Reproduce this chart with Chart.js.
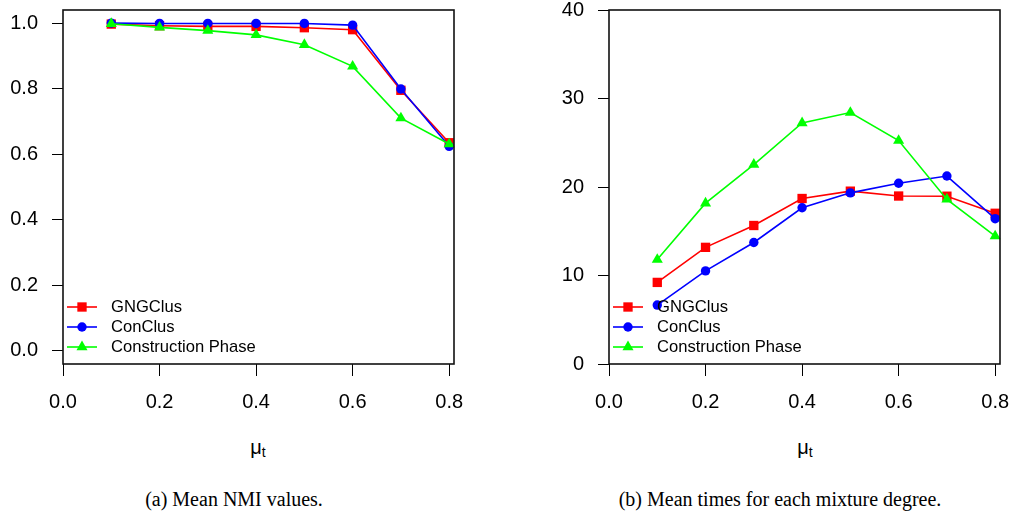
<!DOCTYPE html>
<html>
<head>
<meta charset="utf-8">
<script src="https://cdn.jsdelivr.net/npm/chart.js@4.4.1/dist/chart.umd.min.js"></script>
<style>
  body { margin: 0; background: #fff; width: 1013px; height: 512px; position: relative; overflow: hidden; }
  canvas { position: absolute; top: 0; }
  .lbl { position: absolute; transform: translate(-50%, -50%); white-space: nowrap; color: #000; }
  .mu { font: 20px "Liberation Sans", Arial, sans-serif; }
  .mu sub { font-size: 14px; vertical-align: -3px; }
  .cap { font: 20px "Liberation Serif", "Times New Roman", serif; }
</style>
</head>
<body>
<canvas id="nmi" width="506" height="430" style="left:0px"></canvas>
<canvas id="time" width="507" height="430" style="left:506px"></canvas>
<div class="lbl mu" style="left:258px;top:448px">μ<sub>t</sub></div>
<div class="lbl mu" style="left:805px;top:448px">μ<sub>t</sub></div>
<div class="lbl cap" style="left:234px;top:499px">(a) Mean NMI values.</div>
<div class="lbl cap" style="left:780px;top:499px">(b) Mean times for each mixture degree.</div>
<script>
var mixture = [0.1, 0.2, 0.3, 0.4, 0.5, 0.6, 0.7, 0.8];
var xTicks = [0, 0.2, 0.4, 0.6, 0.8];
var nmiTicks = [0, 0.2, 0.4, 0.6, 0.8, 1.0];
var timeTicks = [0, 10, 20, 30, 40];
var seriesNames = ['GNGClus', 'ConClus', 'Construction Phase'];

// mean NMI
var gngNmi = [0.997, 0.992, 0.990, 0.990, 0.986, 0.980, 0.795, 0.635];
var conNmi = [1.000, 0.999, 0.999, 0.999, 0.999, 0.994, 0.799, 0.624];
var cpNmi  = [0.998, 0.987, 0.977, 0.964, 0.934, 0.868, 0.710, 0.631];

// mean times
var gngTime = [9.22, 13.18, 15.65, 18.70, 19.53, 18.98, 18.96, 17.03];
var conTime = [6.66, 10.52, 13.73, 17.65, 19.34, 20.42, 21.24, 16.42];
var cpTime  = [11.80, 18.17, 22.54, 27.24, 28.41, 25.25, 18.60, 14.46];

var font = 'Liberation Sans, Arial, sans-serif';

function series(i, values, color, style, radius, order) {
    return {
        label: seriesNames[i],
        data: mixture.map(function (x, k) { return { x: x, y: values[k] }; }),
        borderColor: color,
        backgroundColor: color,
        pointBackgroundColor: color,
        pointBorderWidth: 0,
        pointStyle: style,
        pointRadius: radius,
        borderWidth: 1.6,
        tension: 0,
        order: order,
        clip: false
    };
}

// box around the plot region, like R's box()
var framePlugin = {
    id: 'frame',
    afterDatasetsDraw: function (chart) {
        var a = chart.chartArea, ctx = chart.ctx;
        ctx.save();
        ctx.strokeStyle = '#111';
        ctx.lineWidth = 1.6;
        ctx.strokeRect(a.left, a.top, a.right - a.left, a.bottom - a.top);
        ctx.restore();
    }
};

// R style legend: line with marker, bottom left inside the box
var rLegend = {
    id: 'rLegend',
    afterDraw: function (chart) {
        var a = chart.chartArea, ctx = chart.ctx;
        chart.data.datasets.forEach(function (ds, i) {
            var x = a.left + 4;
            var y = a.bottom - 57 + i * 20;
            ctx.save();
            ctx.strokeStyle = ds.borderColor;
            ctx.lineWidth = ds.borderWidth;
            ctx.beginPath();
            ctx.moveTo(x, y);
            ctx.lineTo(x + 30, y);
            ctx.stroke();
            ctx.fillStyle = ds.pointBackgroundColor;
            Chart.helpers.drawPoint(ctx, { pointStyle: ds.pointStyle, radius: ds.pointRadius, borderWidth: 0 }, x + 15, y);
            ctx.fillStyle = '#000';
            ctx.font = '16.6px ' + font;
            ctx.textBaseline = 'middle';
            ctx.textAlign = 'left';
            ctx.fillText(ds.label, x + 44, y);
            ctx.restore();
        });
    }
};

function makeOptions(yMin, yMax, yTickList, yFmt, yWidth, padRight) {
    return {
        responsive: false,
        animation: false,
        layout: { padding: { top: 10, right: padRight, left: 0, bottom: 0 } },
        plugins: { legend: { display: false }, tooltip: { enabled: false } },
        scales: {
            x: {
                type: 'linear', min: 0, max: 0.81,
                afterBuildTicks: function (s) { s.ticks = xTicks.map(function (v) { return { value: v }; }); },
                afterFit: function (s) { s.height = 66; s.paddingLeft = 0; s.paddingRight = 0; },
                grid: { drawOnChartArea: false, tickLength: 12, color: '#000', tickColor: '#000', lineWidth: 1 },
                border: { display: false },
                ticks: {
                    color: '#000', padding: 14, maxRotation: 0, autoSkip: false,
                    font: { family: font, size: 20 },
                    callback: function (v) { return v.toFixed(1); }
                }
            },
            y: {
                type: 'linear', min: yMin, max: yMax,
                afterBuildTicks: function (s) { s.ticks = yTickList.map(function (v) { return { value: v }; }); },
                afterFit: function (s) { s.width = yWidth; s.paddingTop = 0; s.paddingBottom = 0; },
                grid: { drawOnChartArea: false, tickLength: 11, color: '#000', tickColor: '#000', lineWidth: 1 },
                border: { display: false },
                ticks: {
                    color: '#000', padding: 14, autoSkip: false,
                    font: { family: font, size: 20 },
                    callback: yFmt
                }
            }
        }
    };
}

var nmiChart = new Chart(document.getElementById('nmi'), {
    type: 'line',
    data: {
        datasets: [
            series(0, gngNmi, '#ff0000', 'rect', 6.6, 3),
            series(1, conNmi, '#0000ff', 'circle', 4.7, 2),
            series(2, cpNmi, '#00ff00', 'triangle', 6.4, 1)
        ]
    },
    options: makeOptions(-0.04, 1.04, nmiTicks, function (v) { return v.toFixed(1); }, 63, 52),
    plugins: [framePlugin, rLegend]
});

var timeChart = new Chart(document.getElementById('time'), {
    type: 'line',
    data: {
        datasets: [
            series(0, gngTime, '#ff0000', 'rect', 6.6, 3),
            series(1, conTime, '#0000ff', 'circle', 4.7, 2),
            series(2, cpTime, '#00ff00', 'triangle', 6.4, 1)
        ]
    },
    options: makeOptions(0, 40, timeTicks, function (v) { return String(v); }, 103, 13),
    plugins: [framePlugin, rLegend]
});
</script>
</body>
</html>
